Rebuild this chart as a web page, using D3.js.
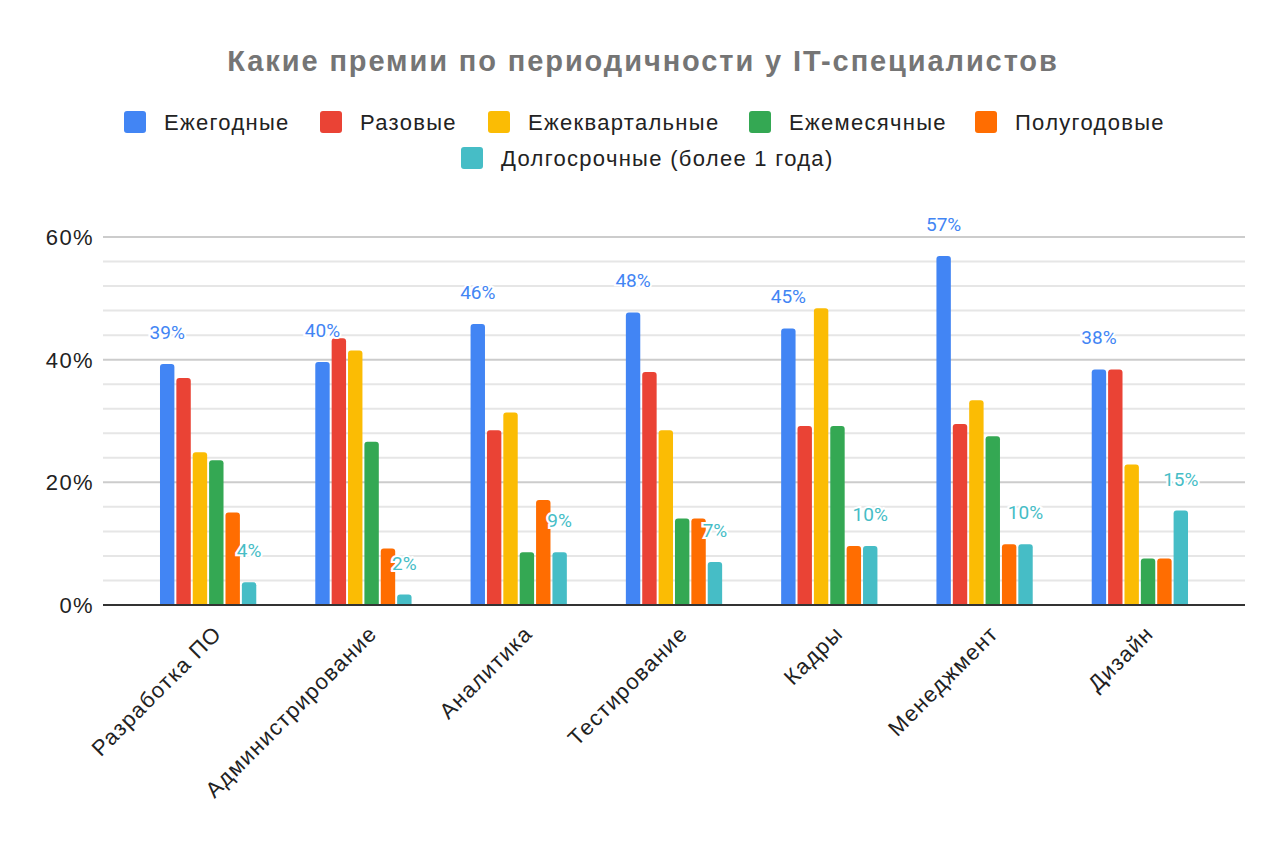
<!DOCTYPE html>
<html>
<head>
<meta charset="utf-8">
<script src="https://cdn.jsdelivr.net/npm/d3@7"></script>
<style>
  body { margin: 0; background: #fff; }
  text { font-family: "Liberation Sans", Arial, sans-serif; }
</style>
</head>
<body>
<svg id="chart" width="1286" height="842"></svg>
<script>
var categories = ["Разработка ПО", "Администрирование", "Аналитика", "Тестирование", "Кадры", "Менеджмент", "Дизайн"];
var seriesNames = ["Ежегодные", "Разовые", "Ежеквартальные", "Ежемесячные", "Полугодовые", "Долгосрочные (более 1 года)"];
var seriesColors = ["#4285f4", "#ea4335", "#fbbc04", "#34a853", "#ff6d01", "#46bdc6"];

var yearly    = [39.3, 39.6, 45.8, 47.7, 45.1, 56.9, 38.4];
var oneTime   = [37.0, 43.5, 28.5, 38.0, 29.2, 29.5, 38.4];
var quarterly = [24.9, 41.5, 31.4, 28.5, 48.4, 33.4, 22.9];
var monthly   = [23.6, 26.6, 8.6, 14.1, 29.2, 27.5, 7.6];
var halfYear  = [15.1, 9.2, 17.1, 14.1, 9.6, 9.9, 7.6];
var longTerm  = [3.7, 1.7, 8.6, 7.0, 9.6, 9.9, 15.4];

var yTicks = [0, 20, 40, 60];
var minorTicks = d3.range(0, 61, 4);
var labelledSeries = [0, 5];

var values = [yearly, oneTime, quarterly, monthly, halfYear, longTerm];

var svg = d3.select("#chart");

var x0 = d3.scaleBand().domain(categories).range([103, 1245]).paddingInner(0.38).paddingOuter(0.367);
var x1 = d3.scaleBand().domain(d3.range(seriesNames.length)).range([0, x0.bandwidth()]).paddingInner(0.12);
var y = d3.scaleLinear().domain([0, 60]).range([605, 237]);

// title
svg.append("text")
  .attr("x", 643).attr("y", 71)
  .attr("text-anchor", "middle")
  .style("font-size", "29px").style("font-weight", "bold").style("fill", "#757575")
  .style("letter-spacing", "1.9px")
  .text("Какие премии по периодичности у IT-специалистов");

// legend
var legendRows = [
  [{i: 0, x: 124}, {i: 1, x: 320}, {i: 2, x: 488}, {i: 3, x: 749}, {i: 4, x: 975}],
  [{i: 5, x: 461}]
];
var legendY = [122, 158];
legendRows.forEach(function (row, r) {
  row.forEach(function (d) {
    var g = svg.append("g").attr("transform", "translate(" + d.x + "," + legendY[r] + ")");
    g.append("rect").attr("x", 0).attr("y", -11).attr("width", 22).attr("height", 22).attr("rx", 3)
      .style("fill", seriesColors[d.i]);
    g.append("text").attr("x", 40).attr("y", 8)
      .style("font-size", "22px").style("fill", "#222").style("letter-spacing", "1.3px")
      .text(seriesNames[d.i]);
  });
});

// grid
svg.append("g").selectAll("line").data(minorTicks).enter().append("line")
  .attr("x1", 103).attr("x2", 1245)
  .attr("y1", function (d) { return y(d); }).attr("y2", function (d) { return y(d); })
  .style("stroke", function (d) { return d % 20 === 0 ? "#cccccc" : "#e6e6e6"; })
  .style("stroke-width", 2);

// y labels
svg.append("g").selectAll("text").data(yTicks).enter().append("text")
  .attr("x", 94).attr("y", function (d) { return y(d) + 8; })
  .attr("text-anchor", "end")
  .style("font-size", "22px").style("fill", "#222").style("letter-spacing", "1.4px")
  .text(function (d) { return d + "%"; });

function barPath(x, yTop, w, h, r) {
  r = Math.min(r, h, w / 2);
  return "M" + x + "," + (yTop + h) +
    "V" + (yTop + r) +
    "Q" + x + "," + yTop + " " + (x + r) + "," + yTop +
    "H" + (x + w - r) +
    "Q" + (x + w) + "," + yTop + " " + (x + w) + "," + (yTop + r) +
    "V" + (yTop + h) + "Z";
}

// bars
var groups = svg.append("g").selectAll("g").data(categories).enter().append("g")
  .attr("transform", function (d) { return "translate(" + x0(d) + ",0)"; });

groups.selectAll("path").data(function (c, ci) {
  return values.map(function (v, si) { return {si: si, v: v[ci]}; });
}).enter().append("path")
  .attr("d", function (d) {
    return barPath(x1(d.si), y(d.v), x1.bandwidth(), y(0) - y(d.v), 3);
  })
  .style("fill", function (d) { return seriesColors[d.si]; });

// data labels
labelledSeries.forEach(function (si) {
  svg.append("g").selectAll("text").data(categories).enter().append("text")
    .attr("x", function (c) { return x0(c) + x1(si) + x1.bandwidth() / 2; })
    .attr("y", function (c, ci) { return y(values[si][ci]) - 25; })
    .attr("text-anchor", "middle")
    .style("font-family", "Roboto, Arial, sans-serif")
    .style("font-size", "19px")
    .style("fill", seriesColors[si])
    .style("stroke", "#fff").style("stroke-width", 4).style("paint-order", "stroke")
    .text(function (c, ci) { return Math.round(values[si][ci]) + "%"; });
});

// baseline
svg.append("line").attr("x1", 103).attr("x2", 1245).attr("y1", y(0)).attr("y2", y(0))
  .style("stroke", "#333").style("stroke-width", 2);

// x labels
svg.append("g").selectAll("text").data(categories).enter().append("text")
  .attr("transform", function (c) {
    return "translate(" + (x0(c) + x0.bandwidth() / 2 + 15) + ",635) rotate(-45)";
  })
  .attr("text-anchor", "end")
  .style("font-size", "22px").style("fill", "#222").style("letter-spacing", "1.3px")
  .text(function (c) { return c; });
</script>
</body>
</html>
